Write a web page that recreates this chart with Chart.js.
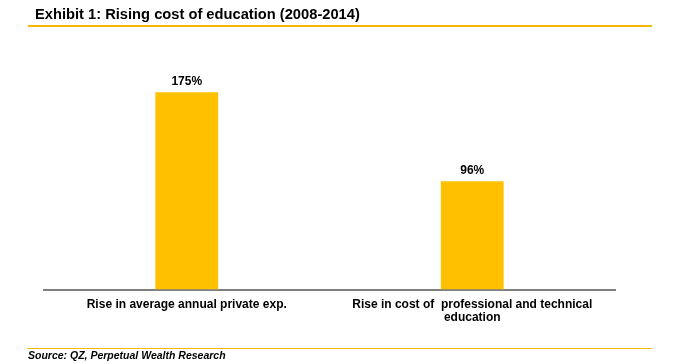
<!DOCTYPE html>
<html>
<head>
<meta charset="utf-8">
<script src="https://cdn.jsdelivr.net/npm/chart.js@4/dist/chart.umd.min.js"></script>
<style>
  html, body { margin: 0; padding: 0; background: #fff; }
  #wrap { position: relative; width: 681px; height: 364px; font-family: "Liberation Sans", Arial, sans-serif; }
  #title { position: absolute; left: 35px; top: 6px; font-size: 14.7px; font-weight: bold; color: #000; white-space: nowrap; }
  #titleLine { position: absolute; left: 28px; top: 25px; width: 624px; height: 2px; background: #F5B800; }
  #sourceLine { position: absolute; left: 27px; top: 348px; width: 625px; height: 1px; background: #F5B800; }
  #source { position: absolute; left: 28px; top: 349px; font-size: 10.5px; font-weight: bold; font-style: italic; color: #000; white-space: nowrap; }
  #chart { position: absolute; left: 0; top: 0; }
</style>
</head>
<body>
<div id="wrap">
  <canvas id="chart" width="681" height="364"></canvas>
  <div id="title">Exhibit 1: Rising cost of education (2008-2014)</div>
  <div id="titleLine"></div>
  <div id="sourceLine"></div>
  <div id="source">Source: QZ, Perpetual Wealth Research</div>
</div>
<script>
document.addEventListener("DOMContentLoaded", function() {
    var categories = [
        'Rise in average annual private exp.',
        ['Rise in cost of  professional and technical', 'education']
    ];
    var riseValues = [175, 96];
    var valueLabels = ['175%', '96%'];

    // étiquettes au-dessus des barres
    var barLabels = {
        id: 'barLabels',
        afterDatasetsDraw: function(chart) {
            var ctx = chart.ctx;
            var meta = chart.getDatasetMeta(0);
            ctx.save();
            ctx.font = 'bold 12px "Liberation Sans", Arial, sans-serif';
            ctx.fillStyle = '#000';
            ctx.textAlign = 'center';
            ctx.textBaseline = 'middle';
            meta.data.forEach(function(bar, i) {
                ctx.fillText(valueLabels[i], bar.x, bar.y - 11);
            });
            ctx.restore();
        }
    };

    var ctx = document.getElementById("chart").getContext('2d');
    new Chart(ctx, {
        type: 'bar',
        data: {
            labels: categories,
            datasets: [{
                data: riseValues,
                backgroundColor: '#FFC000',
                borderWidth: 0,
                categoryPercentage: 1,
                barPercentage: 0.22
            }]
        },
        options: {
            responsive: false,
            animation: false,
            layout: { padding: { top: 64, left: 44, right: 66, bottom: 32 } },
            plugins: {
                legend: { display: false },
                tooltip: { enabled: false }
            },
            scales: {
                x: {
                    grid: { display: false, drawTicks: false },
                    border: { display: true, color: '#808080', width: 2 },
                    ticks: {
                        color: '#000',
                        padding: 8,
                        maxRotation: 0,
                        autoSkip: false,
                        font: { family: '"Liberation Sans", Arial, sans-serif', size: 12, weight: 'bold', lineHeight: 1.1 }
                    }
                },
                y: {
                    display: false,
                    min: 0,
                    max: 200
                }
            }
        },
        plugins: [barLabels]
    });
});
</script>
</body>
</html>
